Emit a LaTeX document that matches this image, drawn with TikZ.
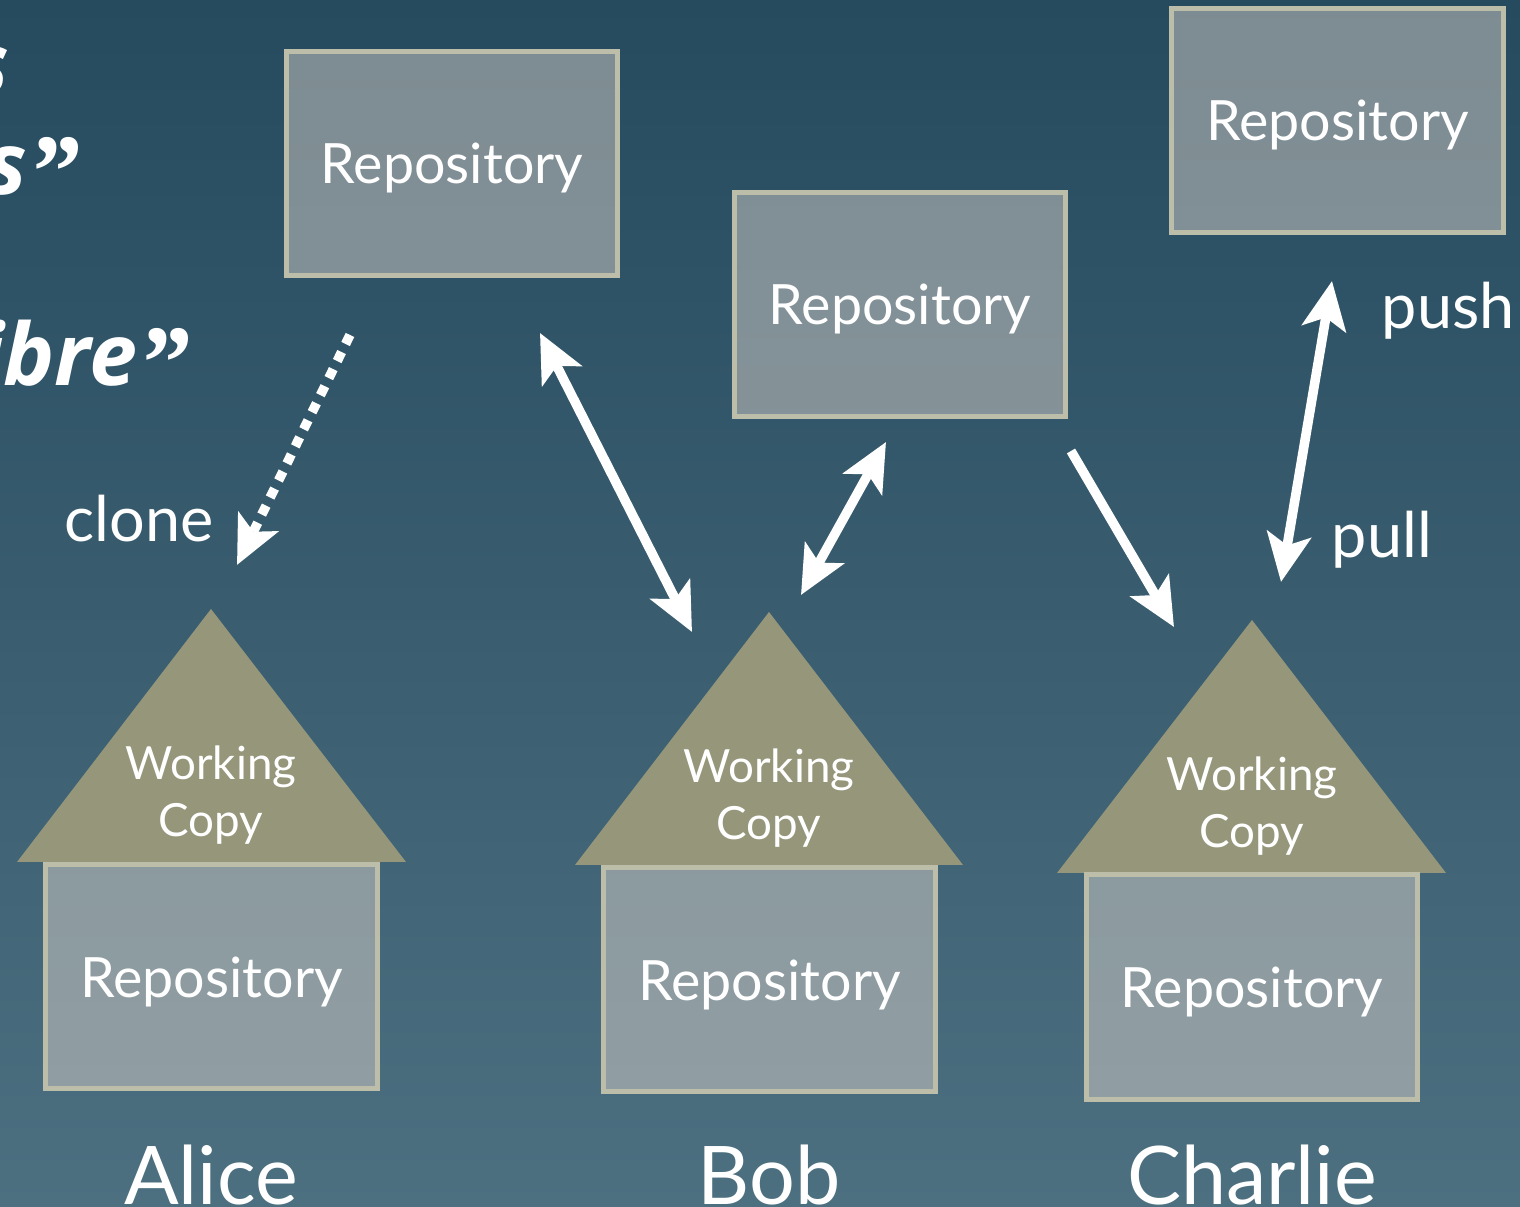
\documentclass[tikz,border=0pt]{standalone}
\usepackage{fontspec}
\usepackage{tikz}
\usetikzlibrary{arrows.meta}
\setmainfont{Lato}
\newfontfamily\quotefont{Open Sans}
\newfontfamily\quotemark{Liberation Serif}
\definecolor{bgtop}{HTML}{264A5E}
\definecolor{bgbottom}{HTML}{4C7080}
\definecolor{boxline}{HTML}{BDBEAA}
\definecolor{boxfill}{HTML}{E8DCD3}
\definecolor{roofcolor}{HTML}{95967A}
\newcommand{\closequote}{\raisebox{-0.13cm}{\quotemark\fontsize{30pt}{30pt}\selectfont ”}}
\tikzset{
  repo/.style={draw=boxline, line width=0.05cm, fill=boxfill, fill opacity=0.45, text opacity=1,
    text=white, minimum width=3.31cm, minimum height=2.24cm, inner sep=0pt,
    text height=0.41cm, text depth=0pt, font=\fontsize{15.8pt}{20pt}\selectfont},
  roof/.style={fill=roofcolor, draw=none},
  roofword/.style={text=white, align=center, inner sep=0pt, font=\fontsize{13pt}{16.2pt}\selectfont},
  person/.style={text=white, anchor=base, inner sep=0pt, font=\fontsize{23pt}{28pt}\selectfont},
  action/.style={text=white, anchor=base west, inner sep=0pt, font=\fontsize{17.9pt}{23pt}\selectfont},
  quoteword/.style={text=white, anchor=base east, inner sep=0pt, font=\quotefont\bfseries\itshape\fontsize{24.5pt}{30pt}\selectfont},
  flow/.style={white, line width=0.095cm, -{Stealth[length=0.48cm,width=0.44cm,inset=0.11cm]}},
  twoway/.style={flow, {Stealth[length=0.48cm,width=0.44cm,inset=0.11cm]}-{Stealth[length=0.48cm,width=0.44cm,inset=0.11cm]}},
}

\begin{document}
\begin{tikzpicture}[x=0.01cm, y=-0.01cm]
        % Background and page frame
        \shade[top color=bgtop, bottom color=bgbottom] (0,0) rectangle (1520,1207);
        \useasboundingbox (0,0) rectangle (1520,1207);
        \clip (0,0) rectangle (1520,1207);

        % Text cut off at the left edge
        \node[quoteword] (quoteA) at (10,95) {s};
        \node[quoteword] (quoteB) at (81,195) {s\closequote};
        \node[quoteword] (quoteC) at (191,386) {ibre\closequote};

        % Remote repositories
        \node[repo] (repoTop) at (452,163.5) {Repository};
        \node[repo] (repoMid) at (900,304.5) {Repository};
        \node[repo] (repoRight) at (1337.5,120.5) {Repository};

        % Alice
        \fill[roof] (211,609) -- (406,862) -- (17,862) -- cycle;
        \node[roofword] (workAlice) at (211,795) {Working\\Copy};
        \node[repo] (repoAlice) at (211.5,976.5) {Repository};
        \node[person] (alice) at (211,1205) {Alice};

        % Bob
        \fill[roof] (769,612) -- (963,865) -- (575,865) -- cycle;
        \node[roofword] (workBob) at (769,798) {Working\\Copy};
        \node[repo] (repoBob) at (769.5,979.5) {Repository};
        \node[person] (bob) at (769,1205) {Bob};

        % Charlie
        \fill[roof] (1252,620) -- (1446,873) -- (1057,873) -- cycle;
        \node[roofword] (workCharlie) at (1252,806) {Working\\Copy};
        \node[repo] (repoCharlie) at (1252,987) {Repository};
        \node[person] (charlie) at (1252,1205) {Charlie};

        % Arrow ends
        \coordinate (cloneFrom) at (350,335);
        \coordinate (cloneTo) at (237,565);
        \coordinate (topEnd) at (540,333);
        \coordinate (bobEndA) at (692,632);
        \coordinate (midEnd) at (886,442);
        \coordinate (bobEndB) at (801,595);
        \coordinate (midFrom) at (1071,451);
        \coordinate (charlieEndA) at (1174,627);
        \coordinate (rightEnd) at (1332,281);
        \coordinate (charlieEndB) at (1281,582);

        % Arrows
        \draw[flow, dash pattern=on 0.1cm off 0.09cm] (cloneFrom) -- (cloneTo);
        \draw[twoway] (topEnd) -- (bobEndA);
        \draw[twoway] (midEnd) -- (bobEndB);
        \draw[flow] (midFrom) -- (charlieEndA);
        \draw[twoway] (rightEnd) -- (charlieEndB);

        % Arrow labels
        \node[action] (cloneLabel) at (64,542) {clone};
        \node[action] (pushLabel) at (1381,329) {push};
        \node[action] (pullLabel) at (1331,558) {pull};
\end{tikzpicture}
\end{document}
